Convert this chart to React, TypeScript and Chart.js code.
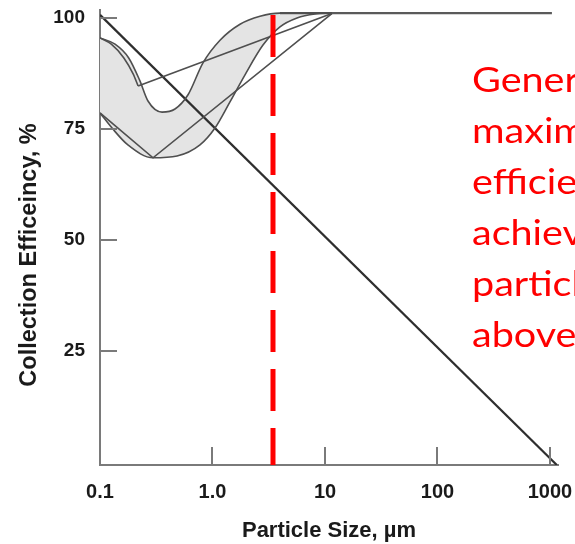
import React, { useEffect, useRef } from "react";
import { Chart, registerables } from "chart.js";

Chart.register(...registerables);

// Axis ticks
const xTickValues = [0.1, 1, 10, 100, 1000];
const xTickLabels = ["0.1", "1.0", "10", "100", "1000"];
const yTickValues = [25, 50, 75, 100];
const yTickLabels = ["25", "50", "75", "100"];
const innerXTicks = [1, 10, 100, 1000];

// Upper boundary of the shaded efficiency band
const upperX = [0.1, 0.136, 0.18, 0.225, 0.267, 0.356, 0.464, 0.606, 0.823, 1.166, 1.756, 2.644, 3.98, 11.5];
const upperY = [95.5, 94.1, 91.0, 86.0, 81.3, 78.8, 79.5, 82.7, 89.9, 95.0, 98.6, 100.4, 101.1, 101.1];
// Lower boundary of the shaded efficiency band
const lowerX = [0.1, 0.128, 0.177, 0.296, 0.484, 0.774, 1.052, 1.43, 1.945, 2.81, 3.98, 5.64, 8.15, 11.5];
const lowerY = [78.6, 75.2, 71.4, 68.5, 68.9, 71.4, 75.2, 81.1, 87.2, 93.9, 98.0, 100.0, 100.9, 101.1];
// Steep branch at the upper left
const steepX = [0.1, 0.126, 0.163, 0.197, 0.218];
const steepY = [95.5, 94.1, 91.0, 87.4, 84.7];
// Straight chords
const upperChordX = [0.218, 11.5];
const upperChordY = [84.7, 101.0];
const lowerChordX = [0.1, 0.296, 11.5];
const lowerChordY = [78.6, 68.5, 101.0];
// Plateau at 100 %
const plateauX = [3.98, 1040];
const plateauY = [101.1, 101.1];
// Diagonal line
const diagonalX = [0.1, 1150];
const diagonalY = [100.7, -0.7];
// Red dashed cut-off
const cutoffX = [3.45, 3.45];
const cutoffY = [100.7, -0.7];

// Red annotation (clipped at right edge)
const noteLines = ["Generally", "maximum", "efficiency", "achieved", "particles", "above"];

const xTitle = "Particle Size, µm";
const yTitle = "Collection Efficeincy, %";

const FAMILY = "'Liberation Sans', Arial, Helvetica, sans-serif";

const pts = (xs: number[], ys: number[]) => xs.map((x, i) => ({ x, y: ys[i] }));

export default function App() {
  const ref = useRef<HTMLCanvasElement | null>(null);

  useEffect(() => {
    document.body.style.margin = "0";
    const canvas = ref.current;
    if (!canvas) return;

    const extras = {
      id: "extras",
      afterDatasetsDraw(chart: any) {
        const { ctx, chartArea, scales } = chart;
        ctx.save();
        ctx.strokeStyle = "#7a7a7a";
        ctx.lineWidth = 2;
        yTickValues.forEach((v) => {
          const y = Math.round(scales.y.getPixelForValue(v));
          ctx.beginPath();
          ctx.moveTo(chartArea.left, y);
          ctx.lineTo(chartArea.left + 17, y);
          ctx.stroke();
        });
        innerXTicks.forEach((v) => {
          const x = Math.round(scales.x.getPixelForValue(v));
          ctx.beginPath();
          ctx.moveTo(x, chartArea.bottom);
          ctx.lineTo(x, chartArea.bottom - 18);
          ctx.stroke();
        });
        ctx.restore();
      },
      afterDraw(chart: any) {
        const { ctx } = chart;
        ctx.save();
        ctx.translate(36, 255);
        ctx.rotate(-Math.PI / 2);
        ctx.font = `bold 23.5px ${FAMILY}`;
        ctx.fillStyle = "#1a1a1a";
        ctx.textAlign = "center";
        ctx.textBaseline = "alphabetic";
        ctx.fillText(yTitle, 0, 0);
        ctx.restore();

        ctx.save();
        ctx.font = "35px Lato, 'Open Sans', sans-serif";
        ctx.fillStyle = "#ff0000";
        ctx.textAlign = "left";
        ctx.textBaseline = "alphabetic";
        ctx.translate(472, 0);
        ctx.scale(1.13, 1);
        noteLines.forEach((t, i) => {
          ctx.fillText(t, 0, 92 + i * 51);
        });
        ctx.restore();
      },
    };

    const curve = "#4f4f4f";
    const chart = new Chart(canvas, {
      type: "line",
      data: {
        datasets: [
          {
            data: pts(upperX, upperY),
            borderColor: curve,
            borderWidth: 1.6,
            backgroundColor: "#e4e4e4",
            fill: "+1",
            cubicInterpolationMode: "monotone",
          },
          {
            data: pts(lowerX, lowerY),
            borderColor: curve,
            borderWidth: 1.6,
            fill: false,
            cubicInterpolationMode: "monotone",
          },
          {
            data: pts(steepX, steepY),
            borderColor: curve,
            borderWidth: 1.6,
            fill: false,
            cubicInterpolationMode: "monotone",
          },
          { data: pts(upperChordX, upperChordY), borderColor: curve, borderWidth: 1.6, fill: false },
          { data: pts(lowerChordX, lowerChordY), borderColor: curve, borderWidth: 1.6, fill: false },
          { data: pts(plateauX, plateauY), borderColor: "#5a5a5a", borderWidth: 2.2, fill: false },
          { data: pts(diagonalX, diagonalY), borderColor: "#2e2e2e", borderWidth: 2.2, fill: false },
          {
            data: pts(cutoffX, cutoffY),
            borderColor: "#ff0000",
            borderWidth: 5,
            borderDash: [42, 17],
            fill: false,
            order: -1,
          },
        ] as any,
      },
      options: {
        responsive: false,
        animation: false,
        devicePixelRatio: 1,
        layout: { padding: { top: 10, right: 17, left: 0, bottom: 0 } },
        elements: { point: { radius: 0, hoverRadius: 0 }, line: { borderCapStyle: "butt" } },
        plugins: {
          legend: { display: false },
          tooltip: { enabled: false },
          filler: { drawTime: "beforeDatasetsDraw" },
        } as any,
        scales: {
          x: {
            type: "logarithmic",
            min: 0.1,
            max: 1178,
            afterBuildTicks: (s: any) => {
              s.ticks = xTickValues.map((v) => ({ value: v }));
            },
            afterFit: (s: any) => {
              s.height = 79;
              s.paddingLeft = 0;
              s.paddingRight = 0;
            },
            grid: { display: false, drawTicks: false },
            border: { display: true, color: "#7a7a7a", width: 2 },
            ticks: {
              autoSkip: false,
              maxRotation: 0,
              padding: 15,
              color: "#1a1a1a",
              font: { family: FAMILY, size: 20, weight: "bold" },
              callback: (_v: any, i: number) => xTickLabels[i],
            },
            title: {
              display: true,
              text: xTitle,
              color: "#1a1a1a",
              font: { family: FAMILY, size: 22, weight: "bold" },
              padding: { top: 0, bottom: 0 },
            },
          },
          y: {
            type: "linear",
            min: -0.7,
            max: 101.8,
            afterBuildTicks: (s: any) => {
              s.ticks = yTickValues.map((v) => ({ value: v }));
            },
            afterFit: (s: any) => {
              s.width = 100;
              s.paddingTop = 0;
              s.paddingBottom = 0;
            },
            grid: { display: false, drawTicks: false },
            border: { display: true, color: "#7a7a7a", width: 2 },
            ticks: {
              padding: 15,
              color: "#1a1a1a",
              font: { family: FAMILY, size: 19, weight: "bold" },
              callback: (_v: any, i: number) => yTickLabels[i],
            },
          },
        } as any,
      },
      plugins: [extras],
    });

    return () => chart.destroy();
  }, []);

  return (
    <div style={{ width: 575, height: 544 }}>
      <canvas ref={ref} width={575} height={544} style={{ display: "block" }} />
    </div>
  );
}
